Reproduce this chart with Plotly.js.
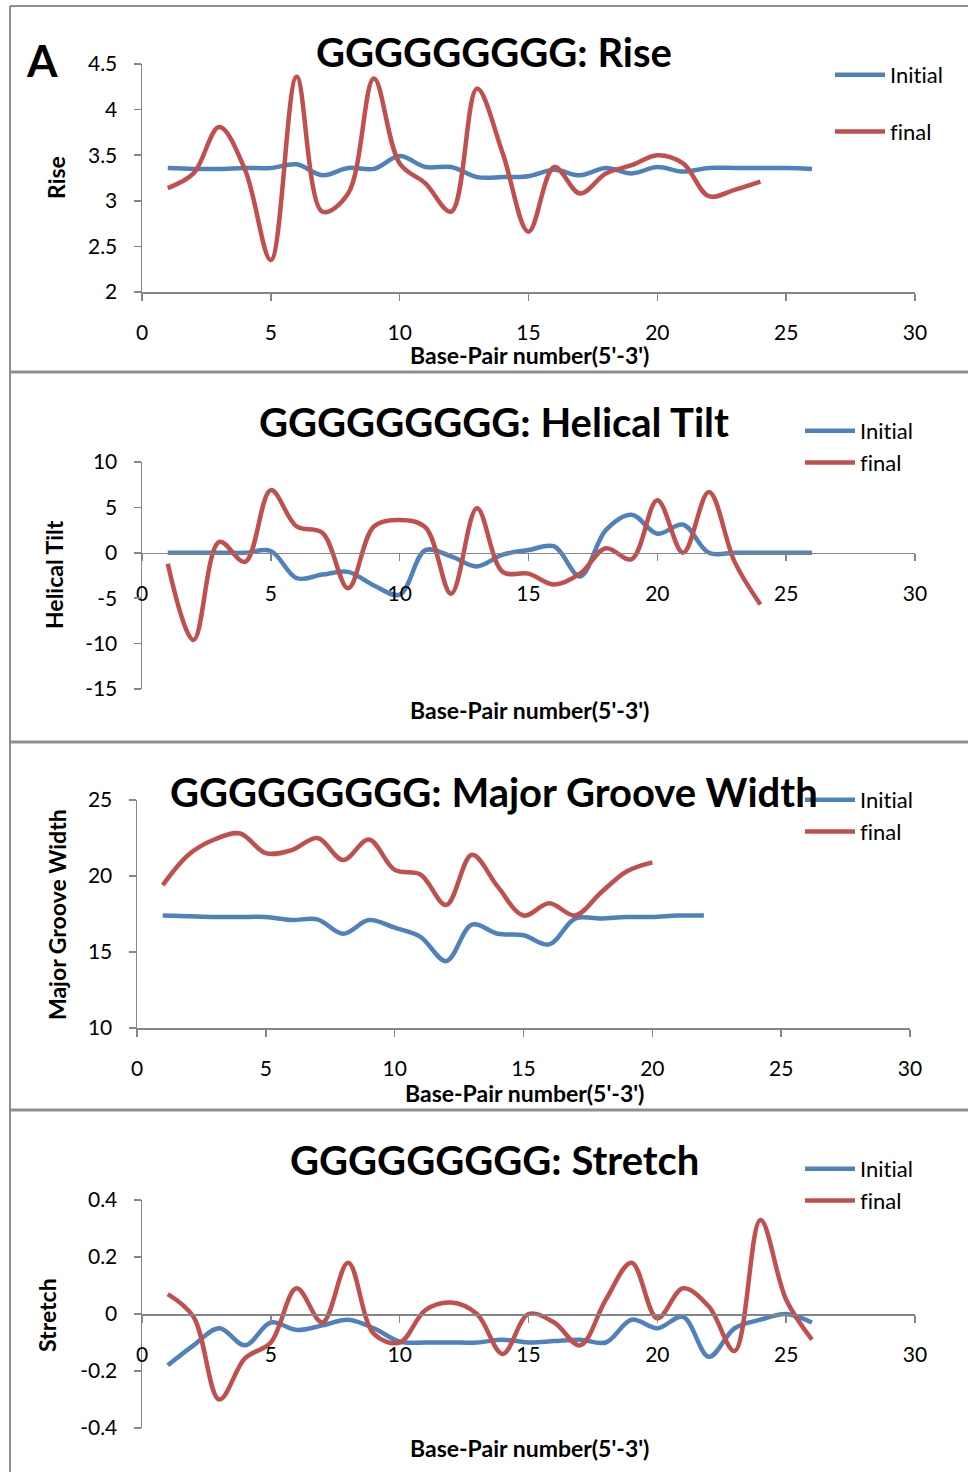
<!DOCTYPE html>
<html>
<head>
<meta charset="utf-8">
<script src="https://cdn.plot.ly/plotly-3.0.1.min.js"></script>
<style>html,body{margin:0;padding:0;background:#fff;}#chart{width:968px;height:1472px;}svg text{font-variant-ligatures:none;font-feature-settings:"liga" 0;}</style>
</head>
<body>
<div id="chart"></div>
<script>
// ---------------- DATA ----------------
const bp26 = [1,2,3,4,5,6,7,8,9,10,11,12,13,14,15,16,17,18,19,20,21,22,23,24,25,26];
const bp24 = [1,2,3,4,5,6,7,8,9,10,11,12,13,14,15,16,17,18,19,20,21,22,23,24];
const bp22 = [1,2,3,4,5,6,7,8,9,10,11,12,13,14,15,16,17,18,19,20,21,22];
const bp20 = [1,2,3,4,5,6,7,8,9,10,11,12,13,14,15,16,17,18,19,20];

const seriesNames = ["Initial", "final"];

const riseInitial = [3.36,3.35,3.35,3.36,3.36,3.40,3.28,3.36,3.35,3.49,3.37,3.37,3.26,3.26,3.27,3.34,3.28,3.36,3.30,3.37,3.32,3.36,3.36,3.36,3.36,3.35];
const riseFinal   = [3.14,3.30,3.81,3.34,2.35,4.36,2.88,3.08,4.34,3.41,3.19,2.88,4.23,3.52,2.66,3.37,3.08,3.30,3.39,3.50,3.41,3.05,3.12,3.21];

const tiltInitial = [0,0,0,0,0.2,-2.8,-2.4,-2.1,-3.6,-4.6,0.3,-0.4,-1.5,-0.2,0.3,0.7,-2.6,2.5,4.2,2.1,3.1,0,0,0,0,0];
const tiltFinal   = [-1.2,-9.6,1.2,-1.0,6.9,2.9,2.2,-3.9,2.9,3.6,2.8,-4.5,4.9,-2.1,-2.3,-3.5,-2.3,0.5,-0.7,5.8,0,6.7,-1.0,-5.7];

const grooveInitial = [17.4,17.35,17.3,17.3,17.3,17.1,17.15,16.2,17.1,16.6,16.0,14.4,16.8,16.2,16.1,15.5,17.2,17.2,17.3,17.3,17.4,17.4];
const grooveFinal   = [19.4,21.4,22.4,22.8,21.5,21.7,22.5,21.05,22.4,20.4,20.1,18.1,21.4,19.3,17.4,18.2,17.4,18.9,20.3,20.9];

const stretchInitial = [-0.18,-0.11,-0.05,-0.11,-0.03,-0.056,-0.04,-0.02,-0.05,-0.097,-0.10,-0.10,-0.10,-0.09,-0.10,-0.095,-0.09,-0.10,-0.02,-0.05,-0.01,-0.15,-0.05,-0.02,0.0,-0.03];
const stretchFinal   = [0.07,-0.01,-0.30,-0.155,-0.10,0.09,-0.03,0.18,-0.07,-0.10,0.014,0.04,0.0,-0.14,0.0,-0.03,-0.11,0.05,0.18,-0.015,0.09,0.026,-0.13,0.33,0.05,-0.09];

const panelTitles = ["GGGGGGGGG: Rise","GGGGGGGGG: Helical Tilt","GGGGGGGGG: Major Groove Width","GGGGGGGGG: Stretch"];
const yTitles = ["Rise","Helical Tilt","Major Groove Width","Stretch"];
const xTitle = "Base-Pair number(5'-3')";
const panelLetter = "A";

const xTickVals = [0,5,10,15,20,25,30];
const xTickText = ["0","5","10","15","20","25","30"];
const riseTickVals = [2,2.5,3,3.5,4,4.5];
const riseTickText = ["2","2.5","3","3.5","4","4.5"];
const tiltTickVals = [-15,-10,-5,0,5,10];
const tiltTickText = ["-15","-10","-5","0","5","10"];
const grooveTickVals = [10,15,20,25];
const grooveTickText = ["10","15","20","25"];
const stretchTickVals = [-0.4,-0.2,0,0.2,0.4];
const stretchTickText = ["-0.4","-0.2","0","0.2","0.4"];

// ---------------- LAYOUT HELPERS ----------------
const W = 968, H = 1472;
const fx = px => px / W;
const fy = py => 1 - py / H;
const FONT = "Lato, 'Open Sans', sans-serif";
const BLUE = "#4F81BD", RED = "#C0504D", AXIS = "#868686";

const panels = [
  {xs:[bp26,bp24], ys:[riseInitial,riseFinal], box:[142,915,64,292], yr:[2,4.5], tv:riseTickVals, tt:riseTickText, xAtZero:false,
   title:[494,52], ytitle:[56,178], xtitle:[529,355], legend:[830,54], gap:25},
  {xs:[bp26,bp24], ys:[tiltInitial,tiltFinal], box:[142,915,462,689], yr:[-15,10], tv:tiltTickVals, tt:tiltTickText, xAtZero:true,
   title:[494,422], ytitle:[54,575], xtitle:[529,710], legend:[800,410], gap:0},
  {xs:[bp22,bp20], ys:[grooveInitial,grooveFinal], box:[137,910,800,1028], yr:[10,25], tv:grooveTickVals, tt:grooveTickText, xAtZero:false,
   title:[494,792], ytitle:[57,915], xtitle:[524,1093], legend:[800,779], gap:0},
  {xs:[bp26,bp26], ys:[stretchInitial,stretchFinal], box:[142,915,1200,1428], yr:[-0.4,0.4], tv:stretchTickVals, tt:stretchTickText, xAtZero:true,
   title:[494,1160], ytitle:[47,1315], xtitle:[529,1448], legend:[800,1148], gap:0}
];

const data = [];
const layout = {
  width: W, height: H,
  margin: {l:0, r:0, t:0, b:0},
  paper_bgcolor: "#fff", plot_bgcolor: "rgba(0,0,0,0)",
  font: {family: FONT, color: "#000", size: 20},
  showlegend: true,
  annotations: [],
  shapes: []
};

panels.forEach((p, i) => {
  const n = i === 0 ? "" : String(i + 1);
  const [x0, x1, y0, y1] = p.box;
  const yd = [fy(y1), fy(y0)];
  let xaxis = {
    domain: [fx(x0), fx(x1)], range: [0, 30],
    tickvals: xTickVals, ticktext: xTickText,
    showline: true, linecolor: AXIS, linewidth: 1.5,
    ticks: "outside", ticklen: 7, tickcolor: AXIS, tickwidth: 1.5,
    showgrid: false, zeroline: false,
    tickfont: {family: FONT, size: 21, color: "#000"},
    ticklabelstandoff: 14
  };
  if (p.xAtZero) {
    xaxis.anchor = "free";
    xaxis.position = yd[0] + (0 - p.yr[0]) / (p.yr[1] - p.yr[0]) * (yd[1] - yd[0]);
  } else {
    xaxis.anchor = "y" + n;
  }
  const yaxis = {
    domain: yd, range: p.yr, anchor: "x" + n,
    tickvals: p.tv, ticktext: p.tt,
    showline: true, linecolor: AXIS, linewidth: 1.5,
    ticks: "outside", ticklen: 7, tickcolor: AXIS, tickwidth: 1.5,
    showgrid: false, zeroline: false,
    tickfont: {family: FONT, size: 21, color: "#000"},
    ticklabelstandoff: 12
  };
  layout["xaxis" + n] = xaxis;
  layout["yaxis" + n] = yaxis;

  const legName = "legend" + n;
  layout[legName] = {
    x: fx(p.legend[0]), y: fy(p.legend[1]), xanchor: "left", yanchor: "top",
    bgcolor: "rgba(0,0,0,0)", borderwidth: 0,
    font: {family: FONT, size: 22, color: "#000"},
    tracegroupgap: p.gap, itemwidth: 50
  };

  [0, 1].forEach(k => {
    data.push({
      type: "scatter", mode: "lines",
      x: p.xs[k], y: p.ys[k],
      name: seriesNames[k],
      xaxis: "x" + n, yaxis: "y" + n,
      legend: legName, legendgroup: "g" + i + "_" + k,
      line: {color: k === 0 ? BLUE : RED, width: 4.5, shape: "spline", smoothing: 1},
      hoverinfo: "skip"
    });
  });

  layout.annotations.push({
    xref: "paper", yref: "paper", x: fx(p.title[0]), y: fy(p.title[1]),
    xanchor: "center", yanchor: "middle", showarrow: false,
    text: "<b>" + panelTitles[i] + "</b>", font: {family: FONT, size: 40, color: "#000"}
  });
  layout.annotations.push({
    xref: "paper", yref: "paper", x: fx(p.ytitle[0]), y: fy(p.ytitle[1]),
    xanchor: "center", yanchor: "middle", showarrow: false, textangle: -90,
    text: "<b>" + yTitles[i] + "</b>", font: {family: FONT, size: 23, color: "#000"}
  });
  layout.annotations.push({
    xref: "paper", yref: "paper", x: fx(p.xtitle[0]), y: fy(p.xtitle[1]),
    xanchor: "center", yanchor: "middle", showarrow: false,
    text: "<b>" + xTitle + "</b>", font: {family: FONT, size: 23, color: "#000"}
  });
});

layout.annotations.push({
  xref: "paper", yref: "paper", x: fx(42), y: fy(60),
  xanchor: "center", yanchor: "middle", showarrow: false,
  text: "<b>" + panelLetter + "</b>", font: {family: FONT, size: 44, color: "#000"}
});

// frame lines
const frame = "#8f8f8f";
layout.shapes.push({type:"line", xref:"paper", yref:"paper", x0:fx(10), x1:fx(10), y0:fy(6), y1:fy(1472), line:{color:frame, width:2}});
layout.shapes.push({type:"line", xref:"paper", yref:"paper", x0:fx(10), x1:1, y0:fy(6), y1:fy(6), line:{color:frame, width:2}});
[372, 742, 1110].forEach(py => {
  layout.shapes.push({type:"line", xref:"paper", yref:"paper", x0:fx(10), x1:1, y0:fy(py), y1:fy(py), line:{color:frame, width:3}});
});

Plotly.newPlot("chart", data, layout, {displayModeBar: false, staticPlot: true});
</script>
</body>
</html>
